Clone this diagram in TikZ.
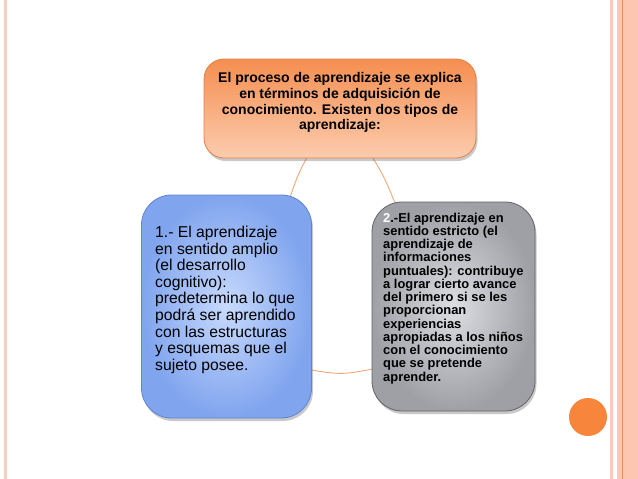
\documentclass[tikz,border=0pt]{standalone}
\usepackage{fontspec}
\setmainfont{Liberation Sans}
\usetikzlibrary{shadows,calc}
\definecolor{leftline}{RGB}{247,208,192}
\definecolor{bandlight}{RGB}{250,204,186}
\definecolor{band}{RGB}{252,198,176}
\definecolor{banddark}{RGB}{226,140,110}
\definecolor{dotorange}{RGB}{247,134,60}
\definecolor{arcorange}{RGB}{240,168,120}
\definecolor{topA}{RGB}{245,142,80}
\definecolor{topB}{RGB}{252,204,174}
\definecolor{topline}{RGB}{228,128,70}
\definecolor{blueIn}{RGB}{200,218,253}
\definecolor{blueOut}{RGB}{128,164,238}
\definecolor{blueline}{RGB}{96,130,210}
\definecolor{grayIn}{RGB}{220,222,226}
\definecolor{grayOut}{RGB}{158,160,166}
\definecolor{grayline}{RGB}{100,100,104}
\tikzset{
  boxbase/.style={draw, line width=0.8pt, inner sep=0pt,
    drop shadow={shadow xshift=1.5pt, shadow yshift=-3pt, opacity=0.35, fill=black!60}},
  topbox/.style={boxbase, rounded corners=20pt, draw=topline, top color=topA, bottom color=topB,
    minimum width=272pt, minimum height=99pt},
  leftbox/.style={boxbase, rounded corners=30pt, draw=blueline, inner color=blueIn, outer color=blueOut,
    minimum width=170pt, minimum height=223pt},
  rightbox/.style={boxbase, rounded corners=30pt, draw=grayline, inner color=grayIn, outer color=grayOut,
    minimum width=163pt, minimum height=209pt},
  connector/.style={draw=arcorange, line width=0.9pt},
  txt/.style={inner sep=0pt, text=black}
}
\begin{document}
\begin{tikzpicture}[x=1pt,y=-1pt]
\useasboundingbox (0,0) rectangle (638,479);
\fill[white] (0,0) rectangle (638,479);
% page decorations
\fill[leftline] (3.5,0) rectangle (7,479);
\fill[bandlight] (610,0) rectangle (612.5,479);
\fill[band] (617,0) rectangle (638,479);
\fill[banddark] (621.7,0) rectangle (622.7,479);
\node[circle, fill=dotorange, minimum size=38pt, inner sep=0pt] (dot) at (588,417) {};
% boxes (positions)
\coordinate (topc) at (340,108.5);
\coordinate (leftc) at (226.5,306.5);
\coordinate (rightc) at (453.5,306.5);
% connectors
\coordinate (t1) at (311,150);
\coordinate (l1) at (289,200);
\coordinate (t2) at (368,150);
\coordinate (r1) at (397,208);
\coordinate (l2) at (305,369);
\coordinate (r2) at (378,368);
\draw[connector] (t1) .. controls (298.5,173) .. (l1);
\draw[connector] (t2) .. controls (384,176) .. (r1);
\draw[connector] (l2) .. controls (341.5,375) .. (r2);
% boxes
\node[topbox] (top) at (topc) {};
\node[leftbox] (left) at (leftc) {};
\node[rightbox] (right) at (rightc) {};
% texts
\node[txt, anchor=north, align=center, font=\bfseries\fontsize{14}{15.6}\selectfont] (toptext) at (340,72.5)
  {El proceso de aprendizaje se explica\\en términos de adquisición de\\conocimiento. Existen dos tipos de\\aprendizaje:};
\node[txt, anchor=north west, align=left, font=\fontsize{15.7}{16.6}\selectfont] (lefttext) at (155,226)
  {1.- El aprendizaje\\en sentido amplio\\(el desarrollo\\cognitivo):\\predetermina lo que\\podrá ser aprendido\\con las estructuras\\y esquemas que el\\sujeto posee.};
\node[txt, anchor=north west, align=left, font=\bfseries\fontsize{12.9}{13.25}\selectfont] (righttext) at (383,212.5)
  {\textcolor{white}{2}.-El aprendizaje en\\sentido estricto (el\\aprendizaje de\\informaciones\\puntuales): contribuye\\a lograr cierto avance\\del primero si se les\\proporcionan\\experiencias\\apropiadas a los niños\\con el conocimiento\\que se pretende\\aprender.};
\end{tikzpicture}
\end{document}
